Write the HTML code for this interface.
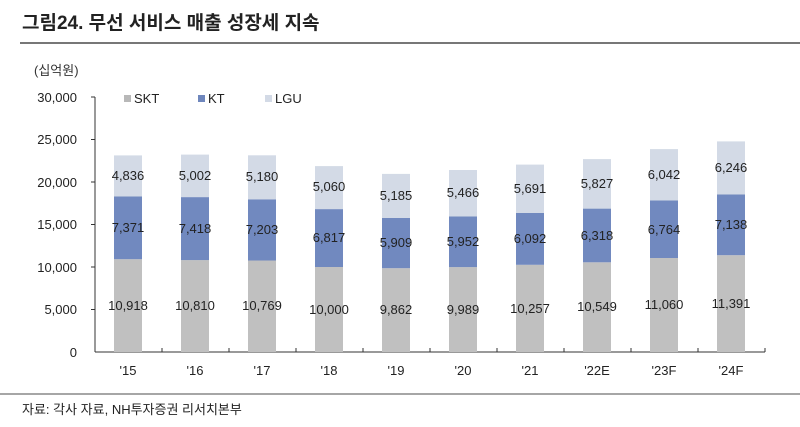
<!DOCTYPE html>
<html><head><meta charset="utf-8"><style>
body{margin:0;background:#fff;}
svg{display:block;font-family:"Liberation Sans","Noto Sans CJK KR",sans-serif;}
</style></head><body>
<svg width="800" height="427" viewBox="0 0 800 427">
<text x="22" y="29" font-size="19" font-weight="bold" fill="#222">그림24. 무선 서비스 매출 성장세 지속</text>
<line x1="20" y1="43" x2="800" y2="43" stroke="#777" stroke-width="2"/>
<text x="34" y="75" font-size="13" fill="#333">(십억원)</text>
<g font-size="13" fill="#222" text-anchor="end">
<text x="77" y="102">30,000</text><text x="77" y="144">25,000</text><text x="77" y="187">20,000</text>
<text x="77" y="229">15,000</text><text x="77" y="272">10,000</text><text x="77" y="314">5,000</text><text x="77" y="357">0</text>
</g>
<g stroke="#333" stroke-width="1">
<line x1="95" y1="97" x2="95" y2="352"/><line x1="95" y1="352" x2="765" y2="352"/>
<line x1="91" y1="97" x2="95" y2="97"/><line x1="91" y1="139.5" x2="95" y2="139.5"/><line x1="91" y1="182" x2="95" y2="182"/>
<line x1="91" y1="224.5" x2="95" y2="224.5"/><line x1="91" y1="267" x2="95" y2="267"/><line x1="91" y1="309.5" x2="95" y2="309.5"/>
<line x1="162" y1="352" x2="162" y2="348"/><line x1="229" y1="352" x2="229" y2="348"/><line x1="296" y1="352" x2="296" y2="348"/>
<line x1="363" y1="352" x2="363" y2="348"/><line x1="430" y1="352" x2="430" y2="348"/><line x1="497" y1="352" x2="497" y2="348"/>
<line x1="564" y1="352" x2="564" y2="348"/><line x1="631" y1="352" x2="631" y2="348"/><line x1="698" y1="352" x2="698" y2="348"/>
<line x1="765" y1="352" x2="765" y2="348"/>
</g>
<rect x="124" y="95" width="7" height="7" fill="#b8b8b8"/><text x="134" y="103" font-size="13" fill="#222">SKT</text>
<rect x="198" y="95" width="7" height="7" fill="#6f87bd"/><text x="208" y="103" font-size="13" fill="#222">KT</text>
<rect x="265" y="95" width="7" height="7" fill="#d3dae6"/><text x="275" y="103" font-size="13" fill="#222">LGU</text>
<g>
<rect x="114" y="259.2" width="28" height="92.8" fill="#c0c0c0"/><rect x="114" y="196.5" width="28" height="62.7" fill="#7189bf"/><rect x="114" y="155.4" width="28" height="41.1" fill="#d3dae6"/>
<rect x="181" y="260.1" width="28" height="91.9" fill="#c0c0c0"/><rect x="181" y="197.1" width="28" height="63" fill="#7189bf"/><rect x="181" y="154.6" width="28" height="42.5" fill="#d3dae6"/>
<rect x="248" y="260.5" width="28" height="91.5" fill="#c0c0c0"/><rect x="248" y="199.3" width="28" height="61.2" fill="#7189bf"/><rect x="248" y="155.3" width="28" height="44" fill="#d3dae6"/>
<rect x="315" y="267" width="28" height="85" fill="#c0c0c0"/><rect x="315" y="209.1" width="28" height="57.9" fill="#7189bf"/><rect x="315" y="166.1" width="28" height="43" fill="#d3dae6"/>
<rect x="382" y="268.2" width="28" height="83.8" fill="#c0c0c0"/><rect x="382" y="218" width="28" height="50.2" fill="#7189bf"/><rect x="382" y="173.9" width="28" height="44.1" fill="#d3dae6"/>
<rect x="449" y="267.1" width="28" height="84.9" fill="#c0c0c0"/><rect x="449" y="216.5" width="28" height="50.6" fill="#7189bf"/><rect x="449" y="170" width="28" height="46.5" fill="#d3dae6"/>
<rect x="516" y="264.8" width="28" height="87.2" fill="#c0c0c0"/><rect x="516" y="213" width="28" height="51.8" fill="#7189bf"/><rect x="516" y="164.6" width="28" height="48.4" fill="#d3dae6"/>
<rect x="583" y="262.3" width="28" height="89.7" fill="#c0c0c0"/><rect x="583" y="208.6" width="28" height="53.7" fill="#7189bf"/><rect x="583" y="159.1" width="28" height="49.5" fill="#d3dae6"/>
<rect x="650" y="258" width="28" height="94" fill="#c0c0c0"/><rect x="650" y="200.5" width="28" height="57.5" fill="#7189bf"/><rect x="650" y="149.1" width="28" height="51.4" fill="#d3dae6"/>
<rect x="717" y="255.2" width="28" height="96.8" fill="#c0c0c0"/><rect x="717" y="194.5" width="28" height="60.7" fill="#7189bf"/><rect x="717" y="141.4" width="28" height="53.1" fill="#d3dae6"/>
</g>
<g font-size="13" fill="#222" text-anchor="middle">
<text x="128" y="310">10,918</text><text x="128" y="232">7,371</text><text x="128" y="180">4,836</text>
<text x="195" y="310">10,810</text><text x="195" y="233">7,418</text><text x="195" y="180">5,002</text>
<text x="262" y="310">10,769</text><text x="262" y="234">7,203</text><text x="262" y="181">5,180</text>
<text x="329" y="314">10,000</text><text x="329" y="242">6,817</text><text x="329" y="191">5,060</text>
<text x="396" y="314">9,862</text><text x="396" y="247">5,909</text><text x="396" y="200">5,185</text>
<text x="463" y="314">9,989</text><text x="463" y="246">5,952</text><text x="463" y="197">5,466</text>
<text x="530" y="313">10,257</text><text x="530" y="243">6,092</text><text x="530" y="193">5,691</text>
<text x="597" y="311">10,549</text><text x="597" y="240">6,318</text><text x="597" y="188">5,827</text>
<text x="664" y="309">11,060</text><text x="664" y="234">6,764</text><text x="664" y="179">6,042</text>
<text x="731" y="308">11,391</text><text x="731" y="229">7,138</text><text x="731" y="172">6,246</text>
</g>
<g font-size="13" fill="#222" text-anchor="middle">
<text x="128" y="375">'15</text><text x="195" y="375">'16</text><text x="262" y="375">'17</text><text x="329" y="375">'18</text>
<text x="396" y="375">'19</text><text x="463" y="375">'20</text><text x="530" y="375">'21</text><text x="597" y="375">'22E</text>
<text x="664" y="375">'23F</text><text x="731" y="375">'24F</text>
</g>
<line x1="0" y1="394" x2="800" y2="394" stroke="#888" stroke-width="1.5"/>
<text x="22" y="414" font-size="13" fill="#222">자료: 각사 자료, NH투자증권 리서치본부</text>
</svg>
</body></html>
